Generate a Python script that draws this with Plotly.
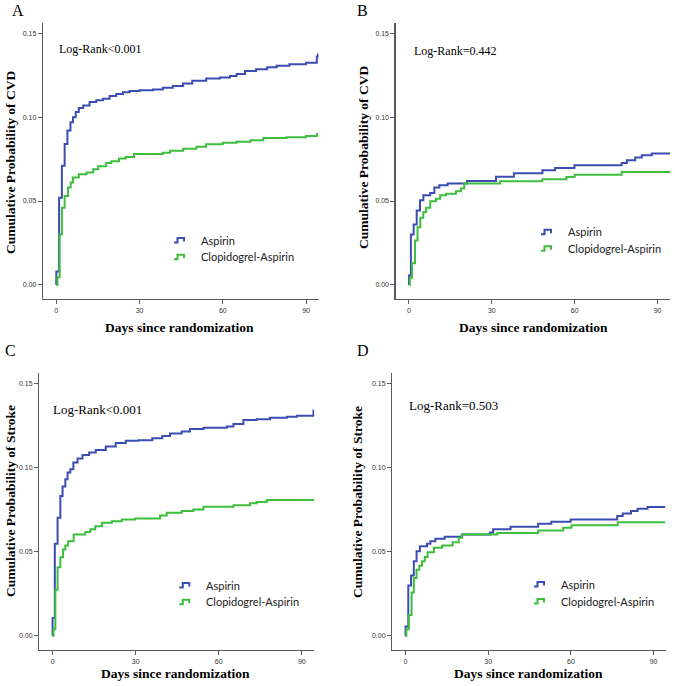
import plotly.graph_objects as go

# ---------------- data ----------------
a_asp_t = [0, 0, 1.0, 2.0, 3.0, 4.0, 5.1, 6.0, 7.0, 8.1, 9.7, 12, 14.4, 16.8, 19.2, 21.6, 24, 26.4, 30, 34.8, 38.4, 42, 45.7, 49, 54, 59, 62.6, 65, 68, 72, 76, 79.4, 84, 90, 93.9, 94.3]
a_asp_v = [0, 0.008, 0.052, 0.071, 0.084, 0.092, 0.097, 0.100, 0.103, 0.1055, 0.107, 0.109, 0.110, 0.111, 0.1126, 0.1138, 0.1148, 0.1156, 0.1161, 0.1165, 0.1175, 0.1185, 0.120, 0.1217, 0.1231, 0.1237, 0.1245, 0.1257, 0.1275, 0.1285, 0.1297, 0.1307, 0.1315, 0.1325, 0.1361, 0.138]
a_clo_t = [0, 0.4, 1.2, 2.0, 3.0, 4.2, 5.2, 6.0, 8.1, 10.9, 13.3, 15.1, 18, 19.8, 22.6, 25, 28, 38.4, 41, 45.7, 50.5, 54, 60, 65, 70, 74.6, 83, 90, 94, 94.4]
a_clo_v = [0, 0.0046, 0.030, 0.046, 0.053, 0.058, 0.061, 0.064, 0.066, 0.067, 0.069, 0.0707, 0.0727, 0.0737, 0.0753, 0.0763, 0.078, 0.0788, 0.080, 0.0812, 0.0823, 0.0838, 0.0847, 0.0853, 0.0863, 0.0875, 0.088, 0.0888, 0.090, 0.090]

b_asp_t = [0, 0, 0.7, 1.7, 2.8, 4.0, 5.2, 7.7, 9.2, 11, 14, 21, 31.5, 38, 48.3, 52.9, 59.9, 77, 78.9, 81.9, 84.3, 87.9, 94.5]
b_asp_v = [0, 0.0056, 0.030, 0.036, 0.0444, 0.0504, 0.0534, 0.0548, 0.058, 0.0594, 0.0605, 0.062, 0.0645, 0.0665, 0.0683, 0.0697, 0.0713, 0.0727, 0.0743, 0.0759, 0.0773, 0.0783, 0.0783]
b_clo_t = [0, 0.3, 1.1, 2.2, 3.1, 4.1, 5.2, 6.2, 7.7, 9.8, 11.3, 13.4, 17, 18.8, 20, 33, 48.3, 57, 60, 77, 94.5]
b_clo_v = [0, 0.0042, 0.0129, 0.0265, 0.0344, 0.040, 0.0434, 0.046, 0.0498, 0.0514, 0.0534, 0.0544, 0.0558, 0.0574, 0.0604, 0.0618, 0.063, 0.0643, 0.0657, 0.0673, 0.0673]

c_asp_t = [0, 0, 0.8, 1.8, 2.8, 3.6, 4.6, 5.4, 6.4, 7.5, 9, 10.8, 13.2, 15.6, 19.2, 22.8, 26.4, 31, 36, 39.6, 42.4, 46.6, 49.6, 54.5, 62.9, 65.3, 68.9, 73.7, 78.5, 84.6, 88.2, 94.2, 94.4]
c_asp_v = [0, 0.0106, 0.0548, 0.0703, 0.0833, 0.0889, 0.0932, 0.0972, 0.0992, 0.1032, 0.1056, 0.1076, 0.1092, 0.1106, 0.1128, 0.1148, 0.1161, 0.1165, 0.1177, 0.119, 0.1205, 0.1217, 0.1231, 0.1239, 0.1247, 0.1261, 0.1285, 0.129, 0.1299, 0.1305, 0.1311, 0.134, 0.134]
c_clo_t = [0, 0.3, 1.0, 1.8, 2.8, 3.8, 4.6, 5.6, 7.6, 11.8, 13.6, 15.4, 17.8, 21.4, 25, 29.8, 38.8, 41.2, 46.6, 50.8, 54.5, 65.3, 71.3, 73.7, 77.3, 94.5]
c_clo_v = [0, 0.004, 0.0275, 0.0408, 0.0468, 0.0514, 0.0538, 0.0564, 0.0604, 0.0618, 0.0634, 0.0653, 0.0673, 0.0683, 0.0693, 0.0699, 0.0717, 0.0733, 0.0743, 0.0753, 0.0769, 0.0777, 0.0789, 0.0797, 0.0809, 0.0809]

d_asp_t = [0, 0, 1.0, 2.0, 3.0, 4.0, 5.2, 7.8, 9, 10.8, 14.2, 20.4, 30.6, 31.8, 38.1, 48.1, 52.9, 59.9, 76.8, 78.8, 81.8, 84.2, 87.8, 94.2]
d_asp_v = [0, 0.0056, 0.030, 0.036, 0.0444, 0.0504, 0.0534, 0.0548, 0.0564, 0.0578, 0.059, 0.0604, 0.0616, 0.0634, 0.0649, 0.0667, 0.0679, 0.0693, 0.0713, 0.0729, 0.0743, 0.0757, 0.0767, 0.0767]
d_clo_t = [0, 0.3, 1.2, 2.2, 3.0, 4.0, 5.0, 6.0, 7.0, 8.0, 10.3, 13.3, 17.1, 19.3, 20.5, 33.3, 48.1, 57.2, 60.2, 77, 94.2]
d_clo_v = [0, 0.004, 0.0125, 0.0259, 0.0345, 0.0394, 0.0418, 0.0444, 0.047, 0.0498, 0.0524, 0.0538, 0.0558, 0.0584, 0.0604, 0.0613, 0.0627, 0.0643, 0.0659, 0.0677, 0.0677]

panel_letters = ["A", "B", "C", "D"]
y_titles = ["Cumulative Probability of CVD", "Cumulative Probability of CVD",
            "Cumulative Probability of Stroke", "Cumulative Probability of Stroke"]
x_title = "Days since randomization"
logrank = ["Log-Rank<0.001", "Log-Rank=0.442", "Log-Rank<0.001", "Log-Rank=0.503"]
series_names = ["Aspirin", "Clopidogrel-Aspirin"]
x_ticks = [0, 30, 60, 90]
y_ticks = [0.00, 0.05, 0.10, 0.15]

# ---------------- layout helpers ----------------
W, H = 675, 686
BLUE = "#3a4db3"
GREEN = "#3dbf3d"
SERIF = "Liberation Serif, Times New Roman, serif"
SANS = "Liberation Sans, Arial, sans-serif"
LEGF = "Lato, Open Sans, sans-serif"

def fx(p):
    return p / W

def fy(p):
    return 1 - p / H

# pixel boxes: (left, right, top, bottom)
boxes = [(43, 318.5, 22.7, 299), (395.7, 670, 22.7, 299),
         (39.3, 314.3, 373.3, 650), (392.3, 666, 373.3, 650)]
letter_pos = [(17.5, 10), (362, 10), (10, 350), (362.5, 350)]
ytitle_pos = [(10, 163), (363, 158), (10, 501), (357, 502)]
xtitle_pos = [(179, 328), (533, 328), (175, 673), (528, 673)]
lr_pos = [(57.3, 49.3, 12), (412.3, 51, 12), (51, 409.3, 13), (407.3, 405, 13)]
leg_pos = [(174, 240, 256.7), (541, 231.7, 248.3), (179.3, 585, 601.7), (534, 584, 601)]

data = [(a_asp_t, a_asp_v, a_clo_t, a_clo_v),
        (b_asp_t, b_asp_v, b_clo_t, b_clo_v),
        (c_asp_t, c_asp_v, c_clo_t, c_clo_v),
        (d_asp_t, d_asp_v, d_clo_t, d_clo_v)]

fig = go.Figure()
annotations = []
shapes = []
layout_axes = {}

for i in range(4):
    sfx = "" if i == 0 else str(i + 1)
    xa, ya = "x" + sfx, "y" + sfx
    at, av, ct, cv = data[i]
    fig.add_trace(go.Scatter(x=at, y=av, mode="lines", line=dict(shape="hv", color=BLUE, width=2),
                             xaxis=xa, yaxis=ya, showlegend=False, name=series_names[0]))
    fig.add_trace(go.Scatter(x=ct, y=cv, mode="lines", line=dict(shape="hv", color=GREEN, width=2),
                             xaxis=xa, yaxis=ya, showlegend=False, name=series_names[1]))
    l, r, t, b = boxes[i]
    common = dict(showgrid=False, zeroline=False, showline=True, linecolor="#5a5a5a", linewidth=1.3,
                  ticks="outside", ticklen=4, tickwidth=1, tickcolor="#5a5a5a",
                  tickfont=dict(family=SANS, size=7, color="#333333"))
    layout_axes["xaxis" + sfx] = dict(domain=[fx(l), fx(r)], anchor=ya, range=[-4.8, 94.5],
                                      tickvals=x_ticks, **common)
    layout_axes["yaxis" + sfx] = dict(domain=[fy(b), fy(t)], anchor=xa, range=[-0.0084, 0.1563],
                                      tickvals=y_ticks, tickformat=".2f", **common)
    lx, ly = letter_pos[i]
    annotations.append(dict(text=panel_letters[i], x=fx(lx), y=fy(ly), xref="paper", yref="paper",
                            showarrow=False, xanchor="center", yanchor="middle",
                            font=dict(family=SERIF, size=16, color="#000000")))
    tx, ty = ytitle_pos[i]
    annotations.append(dict(text="<b>" + y_titles[i] + "</b>", x=fx(tx), y=fy(ty), xref="paper", yref="paper",
                            showarrow=False, textangle=-90, xanchor="center", yanchor="middle",
                            font=dict(family=SERIF, size=13.5, color="#000000")))
    tx, ty = xtitle_pos[i]
    annotations.append(dict(text="<b>" + x_title + "</b>", x=fx(tx), y=fy(ty), xref="paper", yref="paper",
                            showarrow=False, xanchor="center", yanchor="middle",
                            font=dict(family=SERIF, size=13.5, color="#000000")))
    tx, ty, fs = lr_pos[i]
    annotations.append(dict(text=logrank[i], x=fx(tx), y=fy(ty), xref="paper", yref="paper",
                            showarrow=False, xanchor="left", yanchor="middle",
                            font=dict(family=SERIF, size=fs, color="#000000")))
    ix, y1, y2 = leg_pos[i]
    for yy, col, name in [(y1, BLUE, series_names[0]), (y2, GREEN, series_names[1])]:
        path = "M {:.5f},{:.5f} L {:.5f},{:.5f} L {:.5f},{:.5f} L {:.5f},{:.5f} L {:.5f},{:.5f}".format(
            fx(ix), fy(yy + 2.5), fx(ix + 3.5), fy(yy + 2.5), fx(ix + 3.5), fy(yy - 2),
            fx(ix + 10), fy(yy - 2), fx(ix + 10), fy(yy + 1.5))
        shapes.append(dict(type="path", path=path, xref="paper", yref="paper",
                           line=dict(color=col, width=2)))
        annotations.append(dict(text=name, x=fx(ix + 24.5), y=fy(yy), xref="paper", yref="paper",
                                showarrow=False, xanchor="left", yanchor="middle",
                                font=dict(family=LEGF, size=11, color="#1a1a1a")))

fig.update_layout(width=W, height=H, autosize=False, margin=dict(l=0, r=0, t=0, b=0),
                  paper_bgcolor="white", plot_bgcolor="white", showlegend=False,
                  hovermode=False,
                  annotations=annotations, shapes=shapes, **layout_axes)

fig.write_html("out.html", config={"displayModeBar": False, "staticPlot": True},
               post_script="document.body.style.margin='0';document.body.style.overflow='hidden';")
